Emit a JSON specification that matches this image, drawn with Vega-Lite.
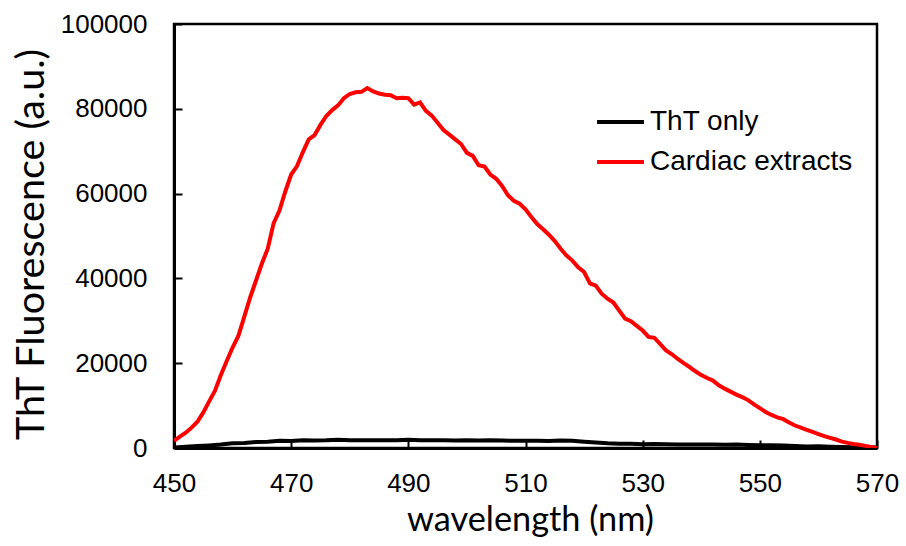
{
  "$schema": "https://vega.github.io/schema/vega-lite/v6.json",
  "autosize": "none",
  "width": 703,
  "height": 424,
  "padding": {"left": 174, "top": 24, "right": 29, "bottom": 98},
  "background": "white",
  "config": {
    "view": {"stroke": "black", "strokeWidth": 2.5},
    "axis": {"grid": false, "domainColor": "black", "domainWidth": 3, "tickColor": "black", "tickWidth": 2, "labelFont": "Liberation Sans", "labelFontSize": 26, "labelColor": "black", "labelFlush": false, "labelOverlap": false, "titleFont": "Lato", "titleFontWeight": "normal", "titleColor": "black"}
  },
  "datasets": {
    "spectra": [
      {"nm": 450, "f": 100, "s": "ThT only"}, {"nm": 452, "f": 300, "s": "ThT only"}, {"nm": 454, "f": 450, "s": "ThT only"}, {"nm": 456, "f": 600, "s": "ThT only"}, {"nm": 458, "f": 800, "s": "ThT only"}, {"nm": 460, "f": 1100, "s": "ThT only"}, {"nm": 462, "f": 1200, "s": "ThT only"}, {"nm": 464, "f": 1400, "s": "ThT only"}, {"nm": 466, "f": 1500, "s": "ThT only"}, {"nm": 468, "f": 1700, "s": "ThT only"}, {"nm": 470, "f": 1650, "s": "ThT only"}, {"nm": 472, "f": 1800, "s": "ThT only"}, {"nm": 474, "f": 1750, "s": "ThT only"}, {"nm": 476, "f": 1800, "s": "ThT only"}, {"nm": 478, "f": 1950, "s": "ThT only"}, {"nm": 480, "f": 1800, "s": "ThT only"}, {"nm": 482, "f": 1800, "s": "ThT only"}, {"nm": 484, "f": 1800, "s": "ThT only"}, {"nm": 486, "f": 1850, "s": "ThT only"}, {"nm": 488, "f": 1850, "s": "ThT only"}, {"nm": 490, "f": 1950, "s": "ThT only"}, {"nm": 492, "f": 1850, "s": "ThT only"}, {"nm": 494, "f": 1800, "s": "ThT only"}, {"nm": 496, "f": 1800, "s": "ThT only"}, {"nm": 498, "f": 1750, "s": "ThT only"}, {"nm": 500, "f": 1800, "s": "ThT only"}, {"nm": 502, "f": 1750, "s": "ThT only"}, {"nm": 504, "f": 1800, "s": "ThT only"}, {"nm": 506, "f": 1750, "s": "ThT only"}, {"nm": 508, "f": 1700, "s": "ThT only"}, {"nm": 510, "f": 1700, "s": "ThT only"}, {"nm": 512, "f": 1700, "s": "ThT only"}, {"nm": 514, "f": 1650, "s": "ThT only"}, {"nm": 516, "f": 1750, "s": "ThT only"}, {"nm": 518, "f": 1700, "s": "ThT only"}, {"nm": 520, "f": 1500, "s": "ThT only"}, {"nm": 522, "f": 1300, "s": "ThT only"}, {"nm": 524, "f": 1100, "s": "ThT only"}, {"nm": 526, "f": 1000, "s": "ThT only"}, {"nm": 528, "f": 1000, "s": "ThT only"}, {"nm": 530, "f": 900, "s": "ThT only"}, {"nm": 532, "f": 950, "s": "ThT only"}, {"nm": 534, "f": 900, "s": "ThT only"}, {"nm": 536, "f": 850, "s": "ThT only"}, {"nm": 538, "f": 850, "s": "ThT only"}, {"nm": 540, "f": 800, "s": "ThT only"}, {"nm": 542, "f": 800, "s": "ThT only"}, {"nm": 544, "f": 750, "s": "ThT only"}, {"nm": 546, "f": 800, "s": "ThT only"}, {"nm": 548, "f": 700, "s": "ThT only"}, {"nm": 550, "f": 650, "s": "ThT only"}, {"nm": 552, "f": 650, "s": "ThT only"}, {"nm": 554, "f": 600, "s": "ThT only"}, {"nm": 556, "f": 450, "s": "ThT only"}, {"nm": 558, "f": 350, "s": "ThT only"}, {"nm": 560, "f": 400, "s": "ThT only"}, {"nm": 562, "f": 300, "s": "ThT only"}, {"nm": 564, "f": 250, "s": "ThT only"}, {"nm": 566, "f": 200, "s": "ThT only"}, {"nm": 568, "f": 150, "s": "ThT only"}, {"nm": 570, "f": 100, "s": "ThT only"},
      {"nm": 450, "f": 1700, "s": "Cardiac extracts"}, {"nm": 451, "f": 2700, "s": "Cardiac extracts"}, {"nm": 452, "f": 3600, "s": "Cardiac extracts"}, {"nm": 453, "f": 4800, "s": "Cardiac extracts"}, {"nm": 454, "f": 6200, "s": "Cardiac extracts"}, {"nm": 455, "f": 8400, "s": "Cardiac extracts"}, {"nm": 456, "f": 11000, "s": "Cardiac extracts"}, {"nm": 457, "f": 13500, "s": "Cardiac extracts"}, {"nm": 458, "f": 17200, "s": "Cardiac extracts"}, {"nm": 459, "f": 20500, "s": "Cardiac extracts"}, {"nm": 460, "f": 23700, "s": "Cardiac extracts"}, {"nm": 461, "f": 26500, "s": "Cardiac extracts"}, {"nm": 462, "f": 31000, "s": "Cardiac extracts"}, {"nm": 463, "f": 35500, "s": "Cardiac extracts"}, {"nm": 464, "f": 39500, "s": "Cardiac extracts"}, {"nm": 465, "f": 43500, "s": "Cardiac extracts"}, {"nm": 466, "f": 47000, "s": "Cardiac extracts"}, {"nm": 467, "f": 53000, "s": "Cardiac extracts"}, {"nm": 468, "f": 56000, "s": "Cardiac extracts"}, {"nm": 469, "f": 60500, "s": "Cardiac extracts"}, {"nm": 470, "f": 64500, "s": "Cardiac extracts"}, {"nm": 471, "f": 66500, "s": "Cardiac extracts"}, {"nm": 472, "f": 69800, "s": "Cardiac extracts"}, {"nm": 473, "f": 72800, "s": "Cardiac extracts"}, {"nm": 474, "f": 73800, "s": "Cardiac extracts"}, {"nm": 475, "f": 76200, "s": "Cardiac extracts"}, {"nm": 476, "f": 78300, "s": "Cardiac extracts"}, {"nm": 477, "f": 79700, "s": "Cardiac extracts"}, {"nm": 478, "f": 80800, "s": "Cardiac extracts"}, {"nm": 479, "f": 82500, "s": "Cardiac extracts"}, {"nm": 480, "f": 83500, "s": "Cardiac extracts"}, {"nm": 481, "f": 83900, "s": "Cardiac extracts"}, {"nm": 482, "f": 84000, "s": "Cardiac extracts"}, {"nm": 483, "f": 84900, "s": "Cardiac extracts"}, {"nm": 484, "f": 84100, "s": "Cardiac extracts"}, {"nm": 485, "f": 83600, "s": "Cardiac extracts"}, {"nm": 486, "f": 83300, "s": "Cardiac extracts"}, {"nm": 487, "f": 83200, "s": "Cardiac extracts"}, {"nm": 488, "f": 82500, "s": "Cardiac extracts"}, {"nm": 489, "f": 82600, "s": "Cardiac extracts"}, {"nm": 490, "f": 82500, "s": "Cardiac extracts"}, {"nm": 491, "f": 81000, "s": "Cardiac extracts"}, {"nm": 492, "f": 81500, "s": "Cardiac extracts"}, {"nm": 493, "f": 79500, "s": "Cardiac extracts"}, {"nm": 494, "f": 78400, "s": "Cardiac extracts"}, {"nm": 495, "f": 76700, "s": "Cardiac extracts"}, {"nm": 496, "f": 75000, "s": "Cardiac extracts"}, {"nm": 497, "f": 73900, "s": "Cardiac extracts"}, {"nm": 498, "f": 72800, "s": "Cardiac extracts"}, {"nm": 499, "f": 71700, "s": "Cardiac extracts"}, {"nm": 500, "f": 69600, "s": "Cardiac extracts"}, {"nm": 501, "f": 68900, "s": "Cardiac extracts"}, {"nm": 502, "f": 66700, "s": "Cardiac extracts"}, {"nm": 503, "f": 66400, "s": "Cardiac extracts"}, {"nm": 504, "f": 64500, "s": "Cardiac extracts"}, {"nm": 505, "f": 63500, "s": "Cardiac extracts"}, {"nm": 506, "f": 61800, "s": "Cardiac extracts"}, {"nm": 507, "f": 59600, "s": "Cardiac extracts"}, {"nm": 508, "f": 58300, "s": "Cardiac extracts"}, {"nm": 509, "f": 57600, "s": "Cardiac extracts"}, {"nm": 510, "f": 56300, "s": "Cardiac extracts"}, {"nm": 511, "f": 54500, "s": "Cardiac extracts"}, {"nm": 512, "f": 52800, "s": "Cardiac extracts"}, {"nm": 513, "f": 51600, "s": "Cardiac extracts"}, {"nm": 514, "f": 50300, "s": "Cardiac extracts"}, {"nm": 515, "f": 48800, "s": "Cardiac extracts"}, {"nm": 516, "f": 47000, "s": "Cardiac extracts"}, {"nm": 517, "f": 45400, "s": "Cardiac extracts"}, {"nm": 518, "f": 44200, "s": "Cardiac extracts"}, {"nm": 519, "f": 42600, "s": "Cardiac extracts"}, {"nm": 520, "f": 41500, "s": "Cardiac extracts"}, {"nm": 521, "f": 38800, "s": "Cardiac extracts"}, {"nm": 522, "f": 38300, "s": "Cardiac extracts"}, {"nm": 523, "f": 36400, "s": "Cardiac extracts"}, {"nm": 524, "f": 35200, "s": "Cardiac extracts"}, {"nm": 525, "f": 34300, "s": "Cardiac extracts"}, {"nm": 526, "f": 32400, "s": "Cardiac extracts"}, {"nm": 527, "f": 30500, "s": "Cardiac extracts"}, {"nm": 528, "f": 29900, "s": "Cardiac extracts"}, {"nm": 529, "f": 28800, "s": "Cardiac extracts"}, {"nm": 530, "f": 27700, "s": "Cardiac extracts"}, {"nm": 531, "f": 26200, "s": "Cardiac extracts"}, {"nm": 532, "f": 26000, "s": "Cardiac extracts"}, {"nm": 533, "f": 24500, "s": "Cardiac extracts"}, {"nm": 534, "f": 23000, "s": "Cardiac extracts"}, {"nm": 535, "f": 22100, "s": "Cardiac extracts"}, {"nm": 536, "f": 21000, "s": "Cardiac extracts"}, {"nm": 537, "f": 20000, "s": "Cardiac extracts"}, {"nm": 538, "f": 19100, "s": "Cardiac extracts"}, {"nm": 539, "f": 18100, "s": "Cardiac extracts"}, {"nm": 540, "f": 17200, "s": "Cardiac extracts"}, {"nm": 541, "f": 16500, "s": "Cardiac extracts"}, {"nm": 542, "f": 15900, "s": "Cardiac extracts"}, {"nm": 543, "f": 14800, "s": "Cardiac extracts"}, {"nm": 544, "f": 14000, "s": "Cardiac extracts"}, {"nm": 545, "f": 13300, "s": "Cardiac extracts"}, {"nm": 546, "f": 12600, "s": "Cardiac extracts"}, {"nm": 547, "f": 12000, "s": "Cardiac extracts"}, {"nm": 548, "f": 11300, "s": "Cardiac extracts"}, {"nm": 549, "f": 10300, "s": "Cardiac extracts"}, {"nm": 550, "f": 9400, "s": "Cardiac extracts"}, {"nm": 551, "f": 8500, "s": "Cardiac extracts"}, {"nm": 552, "f": 7800, "s": "Cardiac extracts"}, {"nm": 553, "f": 7200, "s": "Cardiac extracts"}, {"nm": 554, "f": 6800, "s": "Cardiac extracts"}, {"nm": 555, "f": 6000, "s": "Cardiac extracts"}, {"nm": 556, "f": 5300, "s": "Cardiac extracts"}, {"nm": 557, "f": 4800, "s": "Cardiac extracts"}, {"nm": 558, "f": 4300, "s": "Cardiac extracts"}, {"nm": 559, "f": 3800, "s": "Cardiac extracts"}, {"nm": 560, "f": 3300, "s": "Cardiac extracts"}, {"nm": 561, "f": 2800, "s": "Cardiac extracts"}, {"nm": 562, "f": 2400, "s": "Cardiac extracts"}, {"nm": 563, "f": 2000, "s": "Cardiac extracts"}, {"nm": 564, "f": 1500, "s": "Cardiac extracts"}, {"nm": 565, "f": 1200, "s": "Cardiac extracts"}, {"nm": 566, "f": 950, "s": "Cardiac extracts"}, {"nm": 567, "f": 750, "s": "Cardiac extracts"}, {"nm": 568, "f": 500, "s": "Cardiac extracts"}, {"nm": 569, "f": 250, "s": "Cardiac extracts"}, {"nm": 570, "f": 0, "s": "Cardiac extracts"}
    ]
  },
  "data": {"name": "spectra"},
  "resolve": {"axis": {"x": "independent", "y": "independent"}},
  "layer": [
    {
      "mark": {"type": "point", "opacity": 0},
      "encoding": {
        "x": {
          "field": "nm", "type": "quantitative",
          "scale": {"domain": [450, 570], "nice": false, "zero": false},
          "axis": {"orient": "bottom", "offset": -8, "values": [450, 470, 490, 510, 530, 550, 570], "domain": false, "labels": false, "ticks": true, "tickSize": 8, "title": null}
        },
        "y": {
          "field": "f", "type": "quantitative",
          "scale": {"domain": [0, 100000], "nice": false},
          "axis": {"orient": "left", "offset": -8, "values": [0, 20000, 40000, 60000, 80000, 100000], "domain": false, "labels": false, "ticks": true, "tickSize": 8, "title": null}
        }
      }
    },
    {
      "mark": {"type": "line", "strokeWidth": 4, "clip": true},
      "encoding": {
        "x": {
          "field": "nm", "type": "quantitative",
          "scale": {"domain": [450, 570], "nice": false, "zero": false},
          "axis": {"orient": "bottom", "values": [450, 470, 490, 510, 530, 550, 570], "ticks": false, "tickSize": 0, "title": "wavelength (nm)", "labelPadding": 22, "titleFontSize": 34.3, "titleX": 356, "titleY": 82, "titleBaseline": "alphabetic", "titleAlign": "center"}
        },
        "y": {
          "field": "f", "type": "quantitative",
          "scale": {"domain": [0, 100000], "nice": false},
          "axis": {"orient": "left", "values": [0, 20000, 40000, 60000, 80000, 100000], "format": "d", "ticks": false, "tickSize": 0, "title": "ThT Fluorescence (a.u.)", "labelPadding": 27, "titleFontSize": 39.5, "titleX": -131, "titleY": 220, "titleAngle": -90, "titleBaseline": "alphabetic", "titleAlign": "center"}
        },
        "color": {
          "field": "s", "type": "nominal",
          "scale": {"domain": ["ThT only", "Cardiac extracts"], "range": ["black", "red"]},
          "legend": {"title": null, "orient": "none", "legendX": 421, "legendY": 83, "symbolType": "stroke", "symbolSize": 2200, "symbolStrokeWidth": 4, "labelFont": "Liberation Sans", "labelFontSize": 28, "labelColor": "black", "labelOffset": 4, "labelLimit": 0, "rowPadding": 10, "clipHeight": 30}
        }
      }
    }
  ]
}
